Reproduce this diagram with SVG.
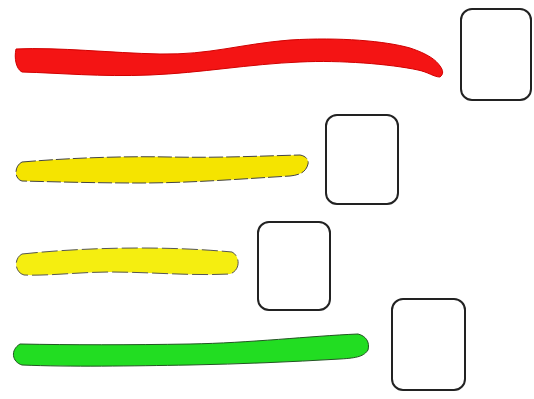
<svg xmlns="http://www.w3.org/2000/svg" width="534" height="399" viewBox="0 0 534 399">
<style>
.box{fill:#fff;stroke:#222;stroke-width:2}
.bar{stroke-linejoin:round}
</style>
<rect width="534" height="399" fill="#fff"/>
<g id="bar-red"><path class="bar" fill="#f41414" stroke="#d00000" stroke-width="1" d="M16,49 C60,47 110,53 160,54 C210,55 240,44 290,40 C340,37 385,41 410,48 C428,54 436,60 440,66 C443,70 444,74 440,77 C434,77 428,72 418,70 C390,64 340,60 300,62 C250,64 200,73 150,75 C100,77 60,73 22,72 C16,69 14,58 16,49 Z"/></g>
<g id="bar-yellow-1"><path class="bar" fill="#f5e400" stroke="#444" stroke-width="1" stroke-dasharray="14 3" d="M22,162 C70,158 120,156 170,157 C220,158 260,156 300,155 C306,156 309,160 308,164 C306,172 300,175 290,176 C240,179 190,183 140,183 C100,183 60,182 22,181 C14,179 14,166 22,162 Z"/></g>
<g id="bar-yellow-2"><path class="bar" fill="#f5ee10" stroke="#555" stroke-width="1" stroke-dasharray="16 4" d="M22,254 C60,250 100,248 140,248 C180,248 210,250 232,252 C240,256 241,270 230,274 C190,276 150,272 110,272 C80,272 50,276 24,275 C14,272 14,258 22,254 Z"/></g>
<g id="bar-green"><path class="bar" fill="#22dd22" stroke="#225522" stroke-width="1" d="M20,344 C70,345 130,345 190,344 C250,343 310,336 358,334 C366,336 370,342 368,350 C364,356 358,358 340,359 C290,362 240,364 190,365 C130,366 70,367 22,365 C12,362 10,350 20,344 Z"/></g>
<g id="box-1"><rect class="box" x="461" y="9" width="70" height="91" rx="11"/></g>
<g id="box-2"><rect class="box" x="326" y="115" width="72" height="89" rx="11"/></g>
<g id="box-3"><rect class="box" x="258" y="222" width="72" height="88" rx="11"/></g>
<g id="box-4"><rect class="box" x="392" y="299" width="73" height="91" rx="11"/></g>
<g id="connectors"></g>
</svg>
